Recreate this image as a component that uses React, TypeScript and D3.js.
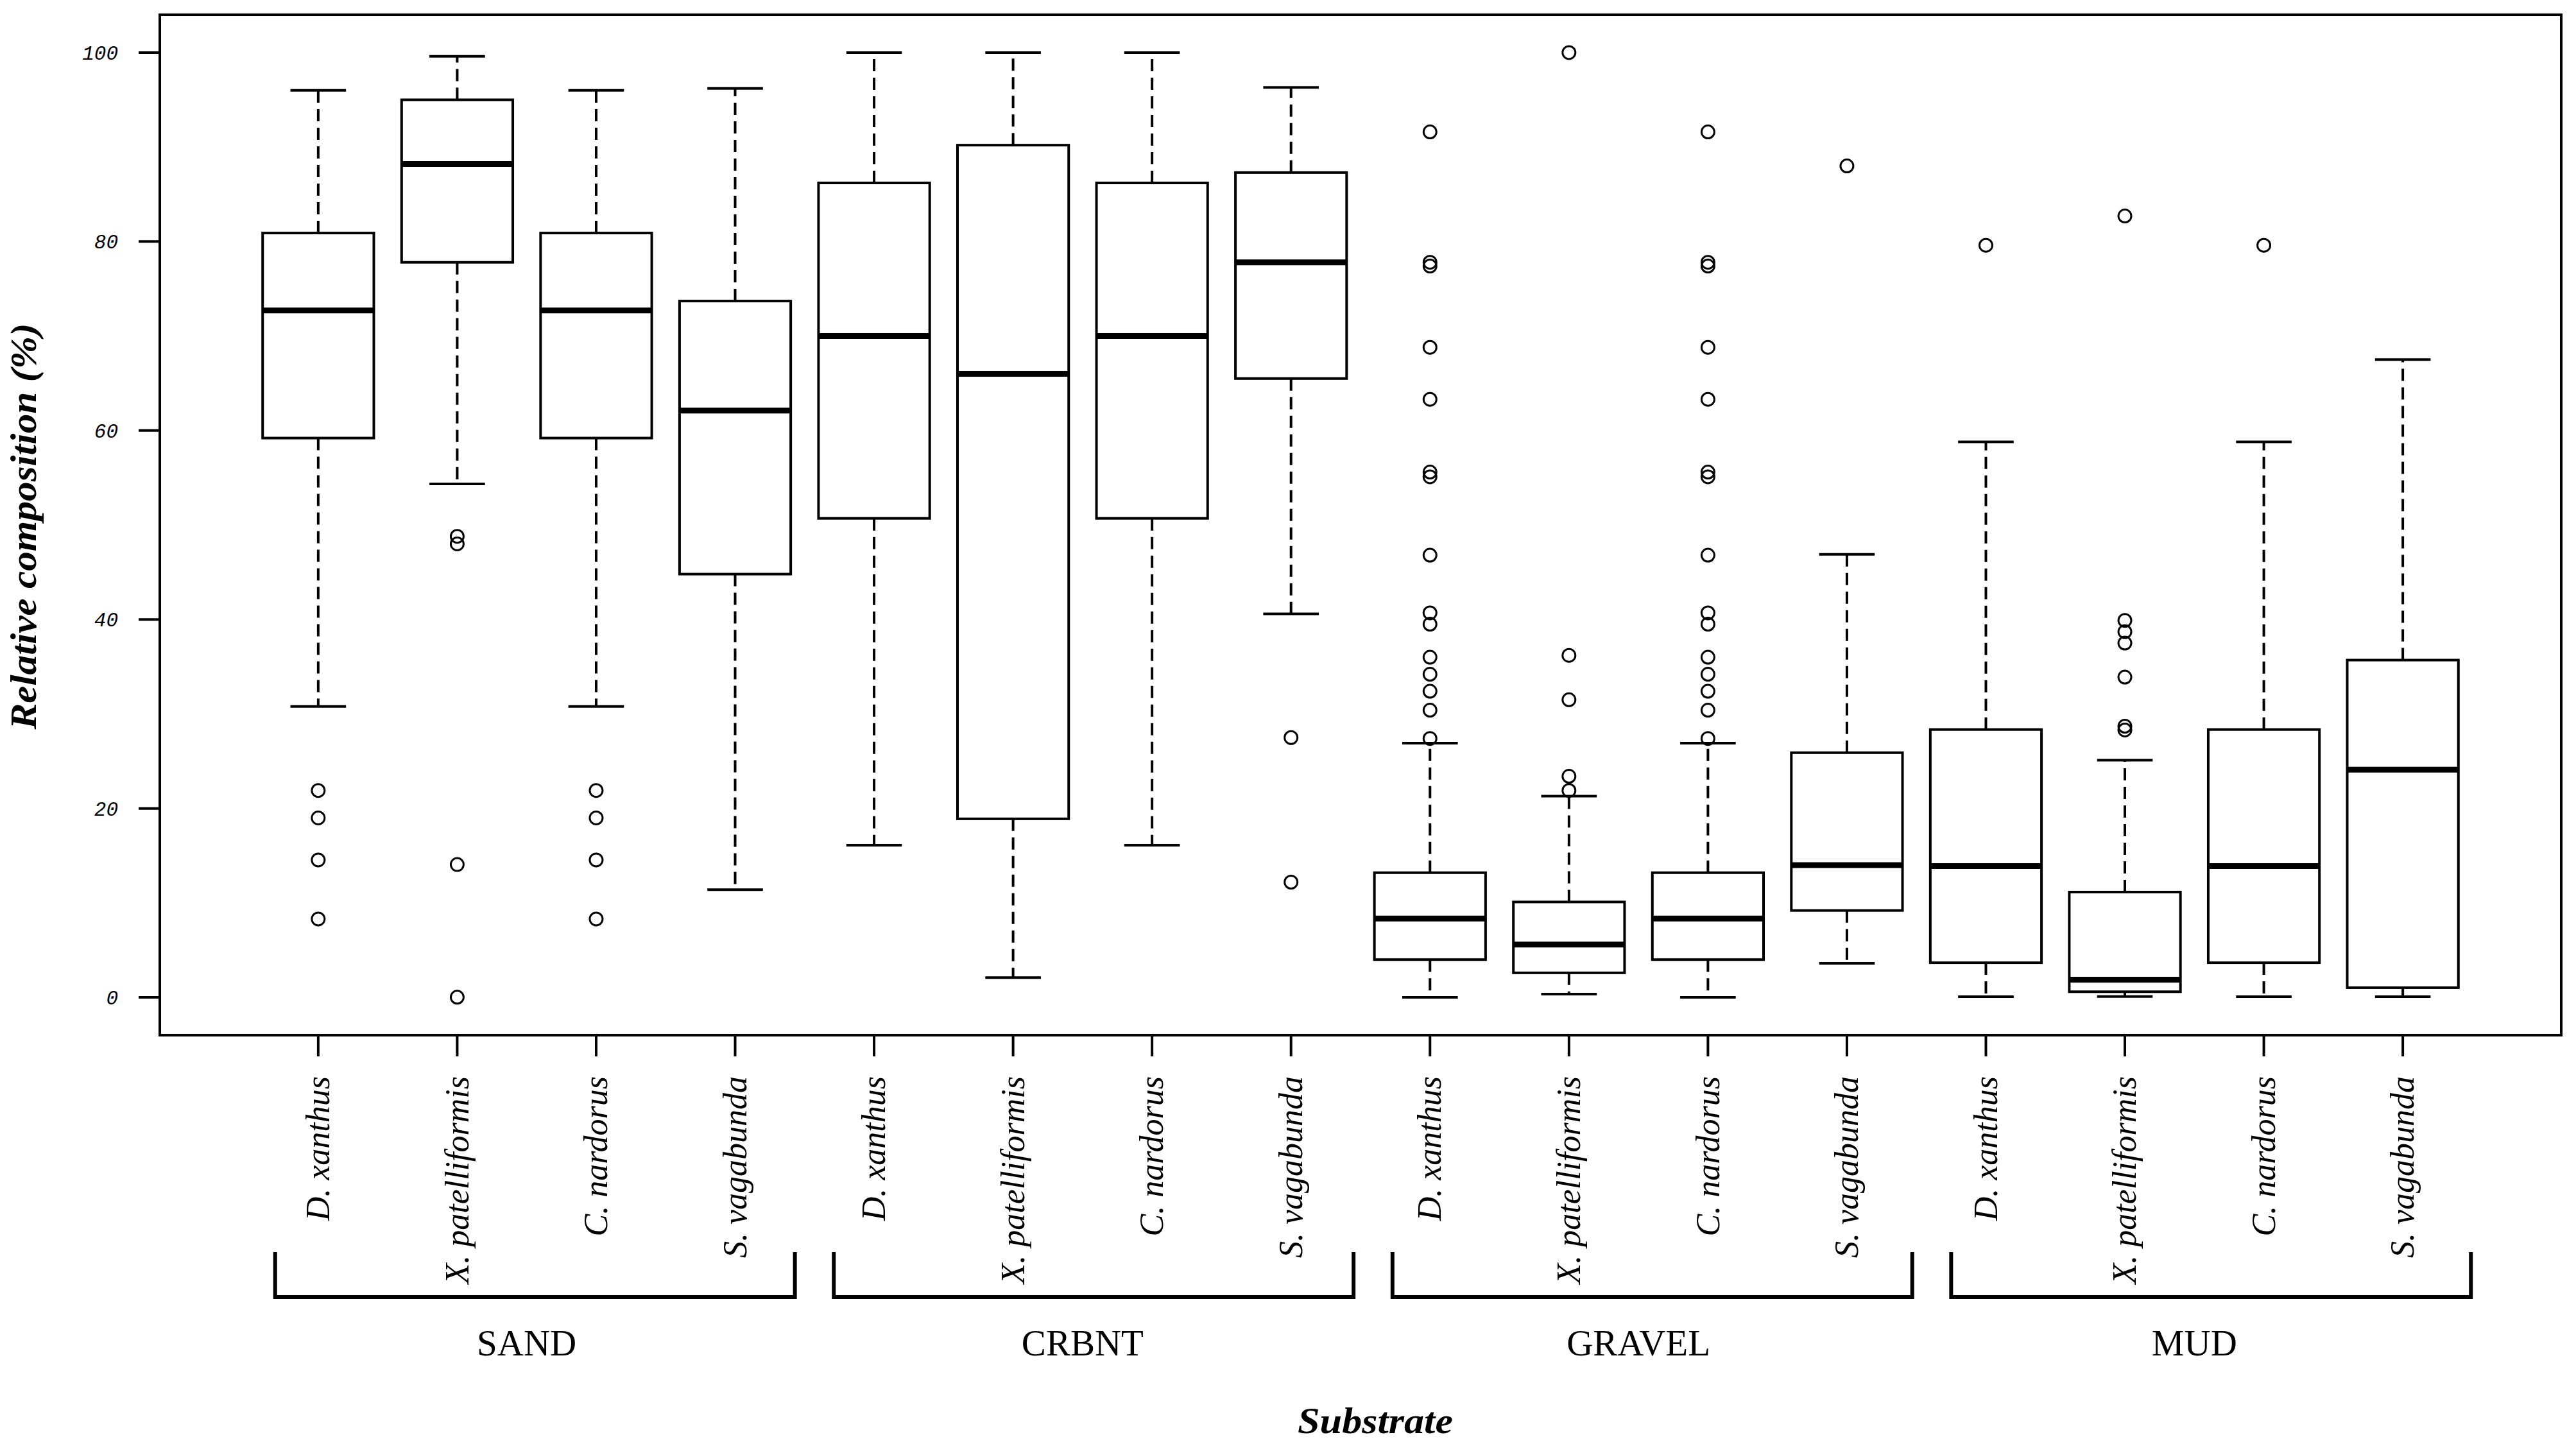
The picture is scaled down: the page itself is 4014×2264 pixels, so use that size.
import React from 'react';
import * as d3 from 'd3';

const substrates = ['SAND', 'CRBNT', 'GRAVEL', 'MUD'];
const species = ['D. xanthus', 'X. patelliformis', 'C. nardorus', 'S. vagabunda'];

// one entry per box, ordered SAND(4), CRBNT(4), GRAVEL(4), MUD(4)
const whiskerLow = [30.8, 54.35, 30.8, 11.4, 16.1, 2.1, 16.1, 40.6, 0, 0.35, 0, 3.6, 0.07, 0.1, 0.07, 0.07];
const q1 = [59.2, 77.8, 59.2, 44.8, 50.7, 18.9, 50.7, 65.5, 4.0, 2.6, 4.0, 9.2, 3.67, 0.6, 3.67, 1.03];
const medians = [72.7, 88.2, 72.7, 62.1, 70.0, 66.0, 70.0, 77.8, 8.35, 5.6, 8.35, 14.0, 13.9, 1.87, 13.9, 24.1];
const q3 = [80.9, 95.0, 80.9, 73.7, 86.2, 90.2, 86.2, 87.3, 13.2, 10.1, 13.2, 25.9, 28.35, 11.15, 28.35, 35.7];
const whiskerHigh = [96.0, 99.6, 96.0, 96.2, 100, 100, 100, 96.3, 26.9, 21.3, 26.9, 46.9, 58.8, 25.1, 58.8, 67.5];
const gravelDx = [91.6, 77.8, 77.4, 68.8, 63.3, 55.6, 55.1, 46.8, 40.7, 39.5, 36.0, 34.2, 32.4, 30.4, 27.4];
const mudDx = [79.6];
const outliers = [
  [21.9, 19.0, 14.55, 8.3],
  [48.8, 48.0, 14.06, 0.02],
  [21.9, 19.0, 14.55, 8.3],
  [],
  [],
  [],
  [],
  [27.5, 12.2],
  gravelDx,
  [100, 36.2, 31.5, 23.4, 21.9],
  gravelDx,
  [88.0],
  mudDx,
  [82.7, 39.9, 38.7, 37.5, 33.9, 28.7, 28.3],
  mudDx,
  [],
];
const yTicks = [0, 20, 40, 60, 80, 100];

const W = 4014;
const H = 2264;
const frame = { left: 249, right: 3991, top: 23, bottom: 1613 };

export default function App() {
  const n = whiskerLow.length;
  const x = d3.scaleLinear().domain([0.5 - 0.64, n + 0.5 + 0.64]).range([frame.left, frame.right]);
  const y = d3.scaleLinear().domain([-4, 104]).range([frame.bottom, frame.top]);
  const unit = x(2) - x(1);
  const boxW = unit * 0.8;
  const capW = unit * 0.4;
  const boxes = d3.range(n).map((i) => ({
    i,
    cx: x(i + 1),
    lo: whiskerLow[i],
    q1: q1[i],
    med: medians[i],
    q3: q3[i],
    hi: whiskerHigh[i],
    out: outliers[i],
    label: species[i % species.length],
  }));
  const serif = '"Liberation Serif", "Times New Roman", serif';

  return (
    <svg width={W} height={H} viewBox={`0 0 ${W} ${H}`} style={{ position: 'absolute', left: 0, top: 0, background: '#fff' }}>
      <rect x={0} y={0} width={W} height={H} fill="#fff" />
      {boxes.map((b) => (
        <g key={b.i} stroke="#000" fill="none">
          <line x1={b.cx} x2={b.cx} y1={y(b.q3)} y2={y(b.hi)} strokeWidth={4} strokeDasharray="19,10" />
          <line x1={b.cx} x2={b.cx} y1={y(b.q1)} y2={y(b.lo)} strokeWidth={4} strokeDasharray="19,10" />
          <line x1={b.cx - capW / 2} x2={b.cx + capW / 2} y1={y(b.hi)} y2={y(b.hi)} strokeWidth={4} />
          <line x1={b.cx - capW / 2} x2={b.cx + capW / 2} y1={y(b.lo)} y2={y(b.lo)} strokeWidth={4} />
          <rect x={b.cx - boxW / 2} y={y(b.q3)} width={boxW} height={y(b.q1) - y(b.q3)} fill="#fff" strokeWidth={4} />
          <line x1={b.cx - boxW / 2} x2={b.cx + boxW / 2} y1={y(b.med)} y2={y(b.med)} strokeWidth={9} />
          {b.out.map((v, k) => (
            <circle key={k} cx={b.cx} cy={y(v)} r={10} strokeWidth={3} />
          ))}
        </g>
      ))}
      <rect x={frame.left} y={frame.top} width={frame.right - frame.left} height={frame.bottom - frame.top} fill="none" stroke="#000" strokeWidth={4} />
      {yTicks.map((t) => (
        <g key={t}>
          <line x1={frame.left - 33} x2={frame.left} y1={y(t)} y2={y(t)} stroke="#000" strokeWidth={4} />
          <text x={184} y={y(t)} dy="0.35em" textAnchor="end" fontFamily='"Liberation Mono", monospace' fontStyle="italic" fontSize={31} fill="#000">
            {t}
          </text>
        </g>
      ))}
      {boxes.map((b) => (
        <g key={'xl' + b.i}>
          <line x1={b.cx} x2={b.cx} y1={frame.bottom} y2={frame.bottom + 33} stroke="#000" strokeWidth={4} />
          <text
            transform={`translate(${b.cx},1677) rotate(-90)`}
            dy="0.33em"
            textAnchor="end"
            fontFamily={serif}
            fontStyle="italic"
            fontSize={52}
            fill="#000"
          >
            {b.label}
          </text>
        </g>
      ))}
      {substrates.map((s, g) => {
        const gc = x(g * 4 + 2.5);
        const bc = x(g * 4 + 2.5 + 0.06 + 0.02 * g);
        const half = unit * 1.87;
        return (
          <g key={s}>
            <path d={`M${bc - half},1951 V2021 H${bc + half} V1951`} fill="none" stroke="#000" strokeWidth={6} />
            <text x={gc} y={2112} textAnchor="middle" fontFamily={serif} fontSize={57} fill="#000">
              {s}
            </text>
          </g>
        );
      })}
      <text
        transform={`translate(56,${(frame.top + frame.bottom) / 2 + 2}) rotate(-90)`}
        textAnchor="middle"
        fontFamily={serif}
        fontStyle="italic"
        fontWeight="bold"
        fontSize={58}
        textLength={633}
        lengthAdjust="spacingAndGlyphs"
        fill="#000"
      >
        Relative composition (%)
      </text>
      <text
        x={2143}
        y={2233}
        textAnchor="middle"
        fontFamily={serif}
        fontStyle="italic"
        fontWeight="bold"
        fontSize={58}
        textLength={242}
        lengthAdjust="spacingAndGlyphs"
        fill="#000"
      >
        Substrate
      </text>
    </svg>
  );
}
